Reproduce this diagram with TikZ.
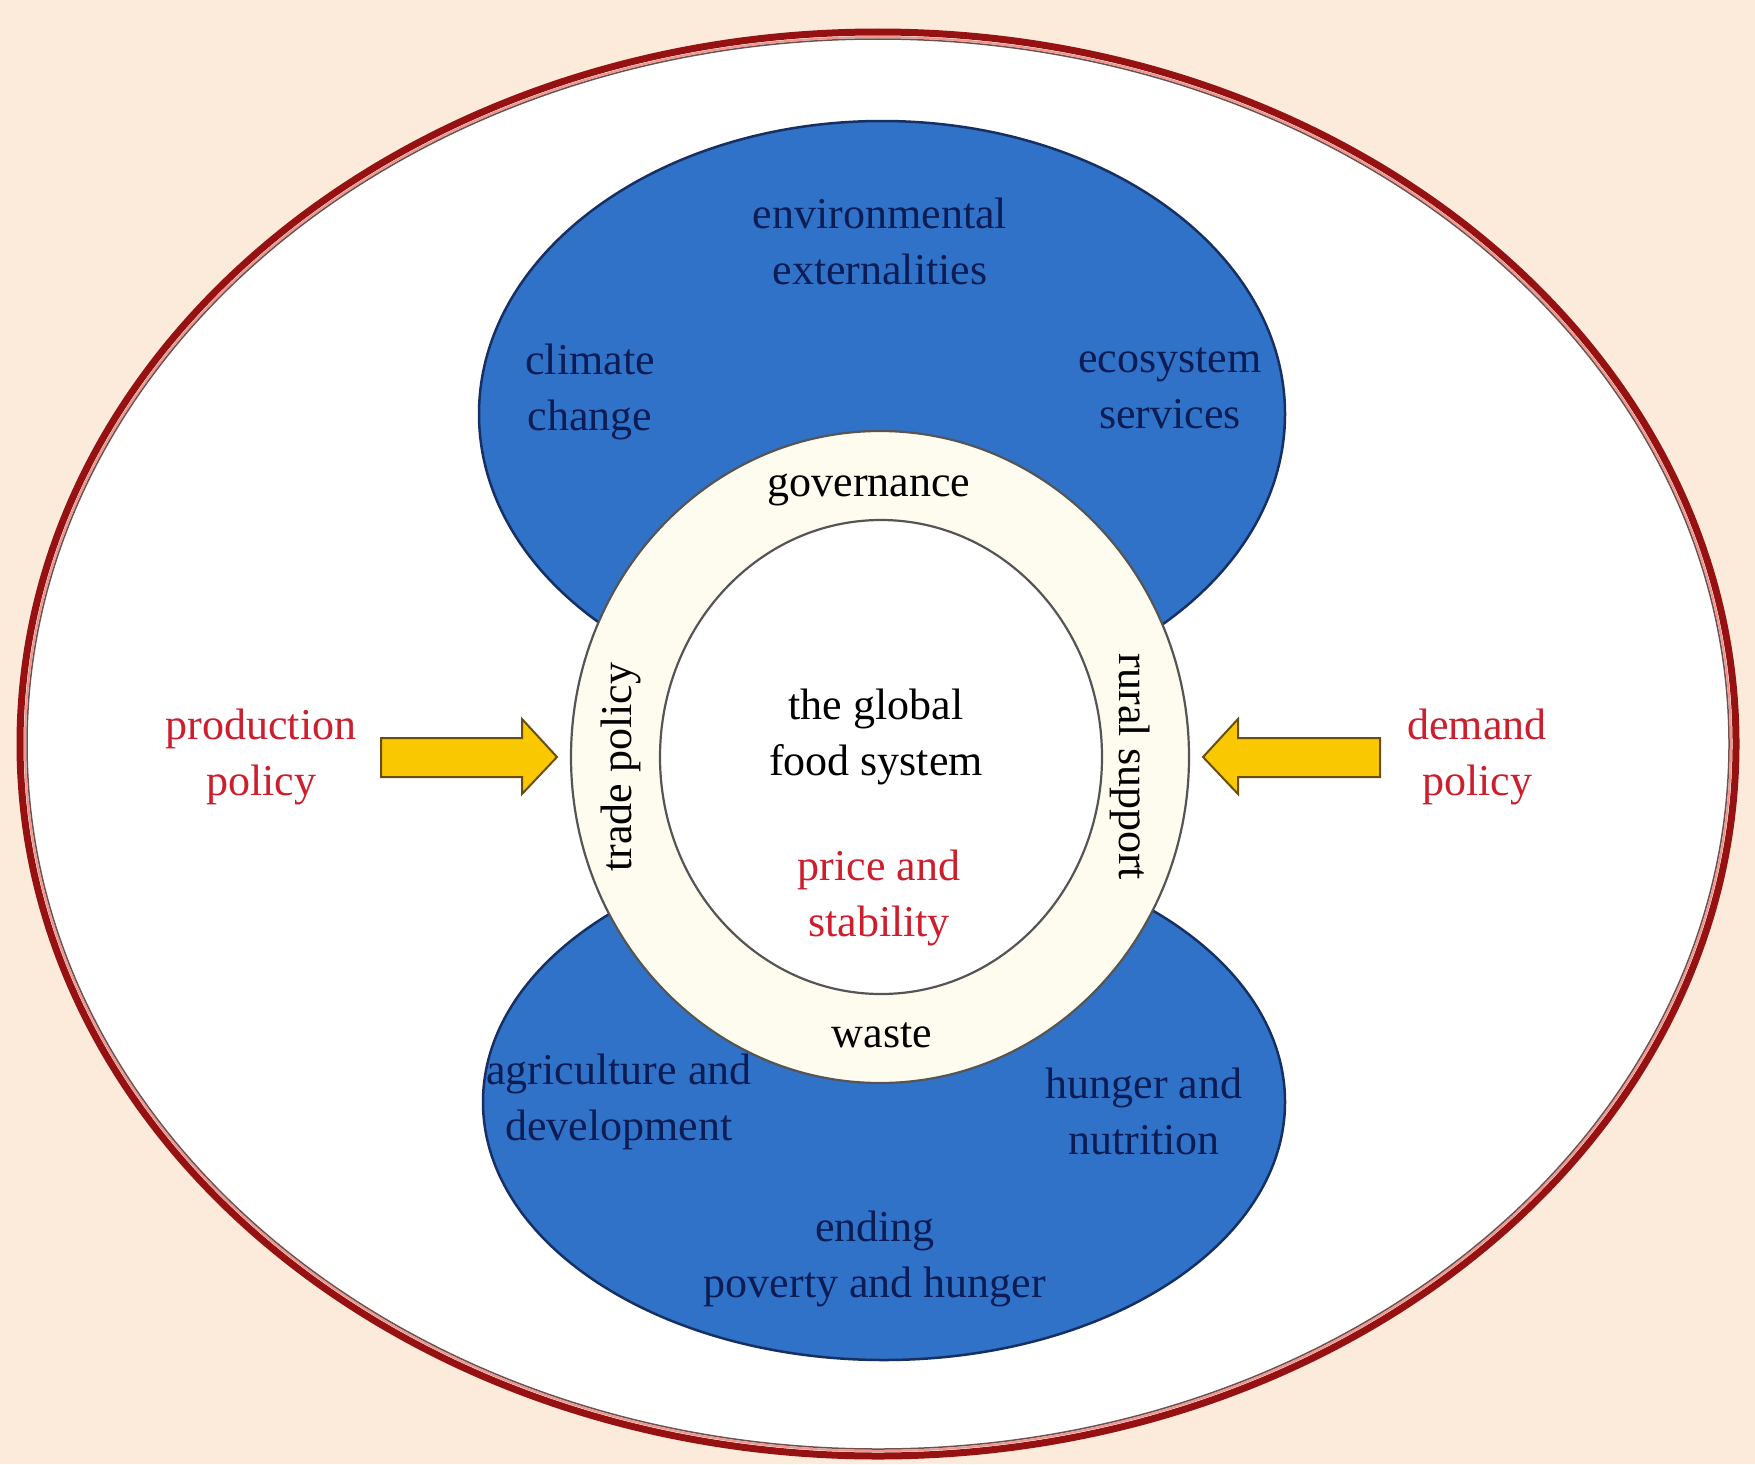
\documentclass[tikz,border=0pt]{standalone}
\usepackage{fontspec}
\setmainfont{Liberation Serif}
\definecolor{peach}{RGB}{252,234,218}
\definecolor{rim}{RGB}{150,18,18}
\definecolor{rimlight}{RGB}{240,150,140}
\definecolor{rimdark}{RGB}{110,80,80}
\definecolor{bluefill}{RGB}{48,114,200}
\definecolor{blueedge}{RGB}{22,48,100}
\definecolor{navytext}{RGB}{12,28,85}
\definecolor{policyred}{RGB}{205,30,45}
\definecolor{ringfill}{RGB}{253,252,238}
\definecolor{ringedge}{RGB}{85,85,85}
\definecolor{arrowfill}{RGB}{250,200,0}
\definecolor{arrowedge}{RGB}{105,78,15}
\begin{document}
\begin{tikzpicture}[x=1pt,y=-1pt,
  lbl/.style={align=center,inner sep=0pt,font=\fontsize{44}{56}\selectfont},
  bluelbl/.style={lbl,text=navytext},
  ringlbl/.style={lbl,text=black},
  redlbl/.style={lbl,text=policyred},
  blob/.style={fill=bluefill,draw=blueedge,line width=2.5pt},
  blockarrow/.style={fill=arrowfill,draw=arrowedge,line width=2pt,line join=miter}]
% canvas
\fill[peach] (0,0) rectangle (1755,1464);
\useasboundingbox (0,0) rectangle (1755,1464);
% outer frame with its triple rim
\fill[white] (878,744) ellipse [x radius=858pt, y radius=712pt];
\draw[rim,line width=7pt] (878,744) ellipse [x radius=858pt, y radius=712pt];
\draw[rimlight,line width=2pt] (878,744) ellipse [x radius=853pt, y radius=707pt];
\draw[rimdark,line width=1.5pt] (878,744) ellipse [x radius=851pt, y radius=705pt];
% the two blue domains
\draw[blob] (882,414) ellipse [x radius=403pt, y radius=293pt];
\draw[blob] (884,1102) ellipse [x radius=401pt, y radius=258pt];
% ring and core
\draw[fill=ringfill,draw=ringedge,line width=2.2pt] (880,757) ellipse [x radius=309pt, y radius=326pt];
\draw[fill=white,draw=ringedge,line width=2.2pt] (881,757) ellipse [x radius=221pt, y radius=237pt];
% policy arrows
\draw[blockarrow] (381,738) -- (522,738) -- (522,719) -- (557,757) -- (522,794) -- (522,777) -- (381,777) -- cycle;
\draw[blockarrow] (1380,738) -- (1238,738) -- (1238,719) -- (1203,757) -- (1238,794) -- (1238,777) -- (1380,777) -- cycle;
% labels in the blue domains
\node[bluelbl] (env) at (880,241) {environmental\\externalities};
\node[bluelbl] (clim) at (590,392) {climate\\change};
\node[bluelbl] (eco) at (1170,388) {ecosystem\\services};
\node[bluelbl] (agri) at (619,1102) {agriculture and\\development};
\node[bluelbl] (hung) at (1144,1111) {hunger and\\nutrition};
\node[bluelbl] (pov) at (875,1259) {ending\\poverty and hunger};
% labels on the ring
\node[ringlbl] (gov) at (869,490) {governance};
\node[ringlbl] (waste) at (882,1035) {waste};
\node[ringlbl,rotate=90] (trade) at (621,767) {trade policy};
\node[ringlbl,rotate=-90] (rural) at (1130,767) {rural support};
% core labels
\node[ringlbl] (core) at (876,737) {the global\\food system};
\node[redlbl] (price) at (879,898) {price and\\stability};
% policy labels
\node[redlbl] (prod) at (261,757) {production\\policy};
\node[redlbl] (dem) at (1477,757) {demand\\policy};
\end{tikzpicture}
\end{document}
